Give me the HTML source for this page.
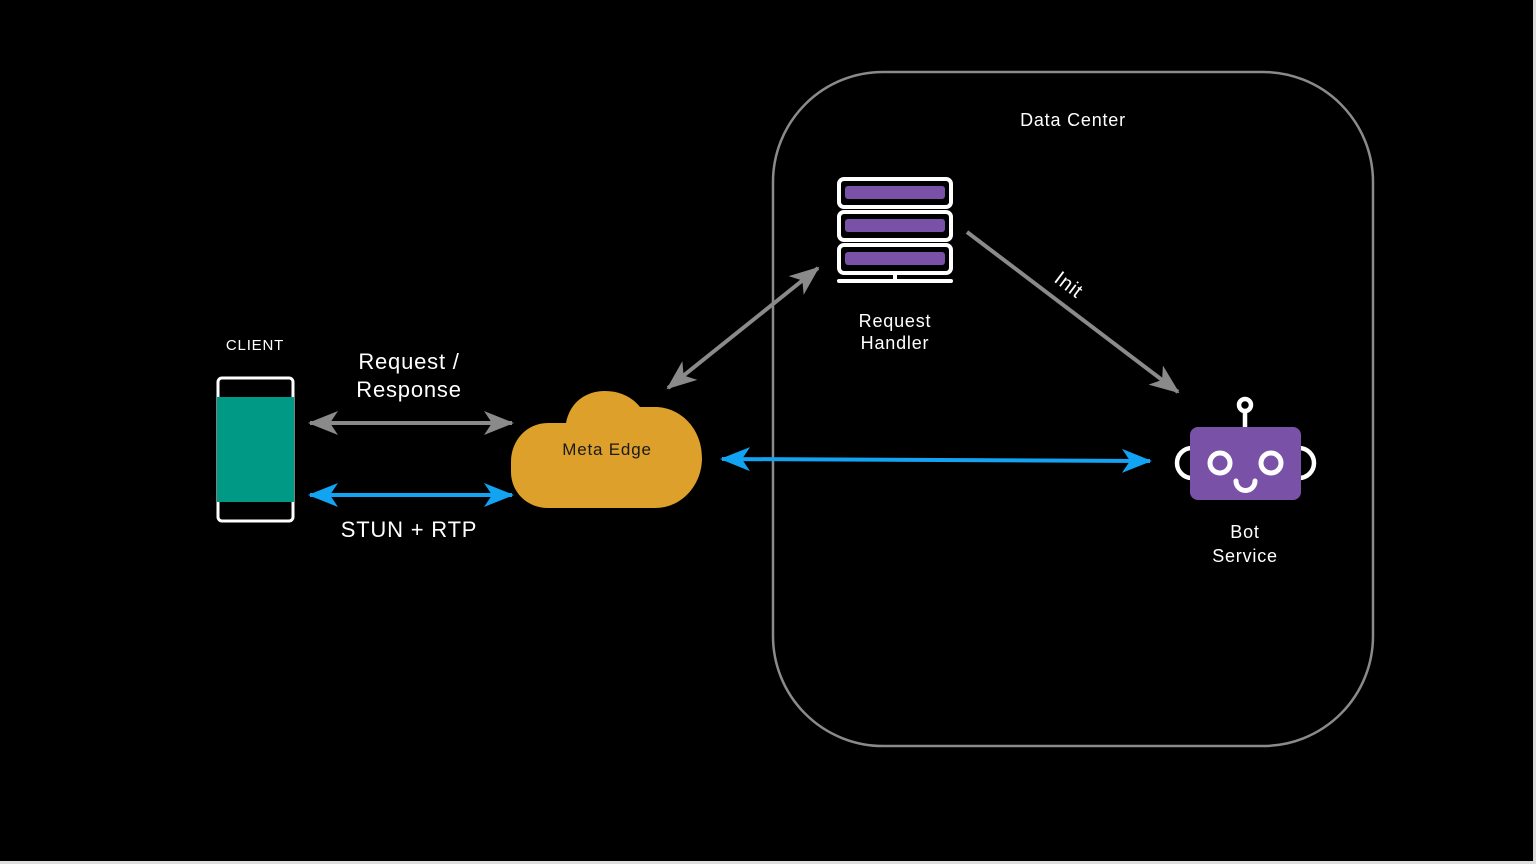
<!DOCTYPE html>
<html><head><meta charset="utf-8"><style>
html,body{margin:0;padding:0;background:#000;}
svg{display:block}
text{font-family:"Liberation Sans",sans-serif;fill:#fff;letter-spacing:0.8px}
</style></head><body>
<svg width="1536" height="864" viewBox="0 0 1536 864" xmlns="http://www.w3.org/2000/svg">
<defs>
<marker id="hg" viewBox="0 0 30 24" refX="28" refY="12" markerWidth="30" markerHeight="24" markerUnits="userSpaceOnUse" orient="auto-start-reverse">
<path d="M0 0 L30 12 L0 24 L8 12 Z" fill="#8a8a8a"/></marker>
<marker id="hb" viewBox="0 0 30 24" refX="28" refY="12" markerWidth="30" markerHeight="24" markerUnits="userSpaceOnUse" orient="auto-start-reverse">
<path d="M0 0 L30 12 L0 24 L8 12 Z" fill="#13a3f3"/></marker>
</defs>
<rect x="0" y="0" width="1536" height="864" fill="#000"/>
<rect x="1533" y="0" width="3" height="864" fill="#ddd"/>
<rect x="0" y="861" width="1536" height="3" fill="#ddd"/>
<rect x="773" y="72" width="600" height="674" rx="110" ry="110" fill="none" stroke="#8a8a8a" stroke-width="2.5"/>
<text x="1073" y="126" font-size="18" text-anchor="middle">Data Center</text>
<text x="255" y="350" font-size="15" text-anchor="middle">CLIENT</text>
<rect x="218" y="378" width="75" height="143" rx="4" fill="none" stroke="#fff" stroke-width="3"/>
<rect x="217" y="397" width="77" height="105" fill="#009985"/>
<text x="409" y="369" font-size="22" text-anchor="middle">Request /</text>
<text x="409" y="397" font-size="22" text-anchor="middle">Response</text>
<text x="409" y="537" font-size="22" text-anchor="middle">STUN + RTP</text>
<line x1="310" y1="423" x2="512" y2="423" stroke="#8a8a8a" stroke-width="4" marker-start="url(#hg)" marker-end="url(#hg)"/>
<line x1="310" y1="495" x2="512" y2="495" stroke="#13a3f3" stroke-width="4" marker-start="url(#hb)" marker-end="url(#hb)"/>
<line x1="722" y1="459" x2="1150" y2="461" stroke="#13a3f3" stroke-width="4" marker-start="url(#hb)" marker-end="url(#hb)"/>
<line x1="668" y1="388" x2="818" y2="268" stroke="#8a8a8a" stroke-width="4" marker-start="url(#hg)" marker-end="url(#hg)"/>
<line x1="967" y1="232" x2="1178" y2="392" stroke="#8a8a8a" stroke-width="4" marker-end="url(#hg)"/>
<text x="0" y="0" font-size="20" transform="translate(1053,281) rotate(37)">Init</text>
<path d="M548 508 H655 C682 508 702 485 702 458 C702 428 680 407 655 407 H640 C632 397 620 391 605 391 C586 391 570 402 566 423 H548 C527 423 511 440 511 462 V472 C511 492 527 508 548 508 Z" fill="#dca02b"/>
<text x="607" y="455" font-size="17" text-anchor="middle" style="fill:#1a1a1a">Meta Edge</text>
<g stroke="#fff" stroke-width="4" fill="none">
<rect x="839" y="179" width="112" height="28" rx="5"/>
<rect x="839" y="212" width="112" height="28" rx="5"/>
<rect x="839" y="245" width="112" height="28" rx="5"/>
<line x1="895" y1="273" x2="895" y2="281"/>
<line x1="839" y1="281" x2="951" y2="281" stroke-linecap="round"/>
</g>
<rect x="845" y="186" width="100" height="13" rx="3" fill="#7952a8"/>
<rect x="845" y="219" width="100" height="13" rx="3" fill="#7952a8"/>
<rect x="845" y="252" width="100" height="13" rx="3" fill="#7952a8"/>
<text x="895" y="327" font-size="18" text-anchor="middle">Request</text>
<text x="895" y="349" font-size="18" text-anchor="middle">Handler</text>
<g stroke="#fff" stroke-width="4.5" fill="none">
<circle cx="1245" cy="405" r="6"/>
<line x1="1245" y1="411" x2="1245" y2="428"/>
<path d="M1192 448 A15 15 0 0 0 1192 478"/>
<path d="M1299 448 A15 15 0 0 1 1299 478"/>
</g>
<rect x="1190" y="427" width="111" height="73" rx="8" fill="#7952a8"/>
<g stroke="#fff" stroke-width="5" fill="none">
<circle cx="1220" cy="463" r="10"/>
<circle cx="1271" cy="463" r="10"/>
<path d="M1236 481 A9.5 9.5 0 0 0 1255 481" stroke-linecap="round"/>
</g>
<text x="1245" y="538" font-size="18" text-anchor="middle">Bot</text>
<text x="1245" y="562" font-size="18" text-anchor="middle">Service</text>
</svg>
</body></html>
